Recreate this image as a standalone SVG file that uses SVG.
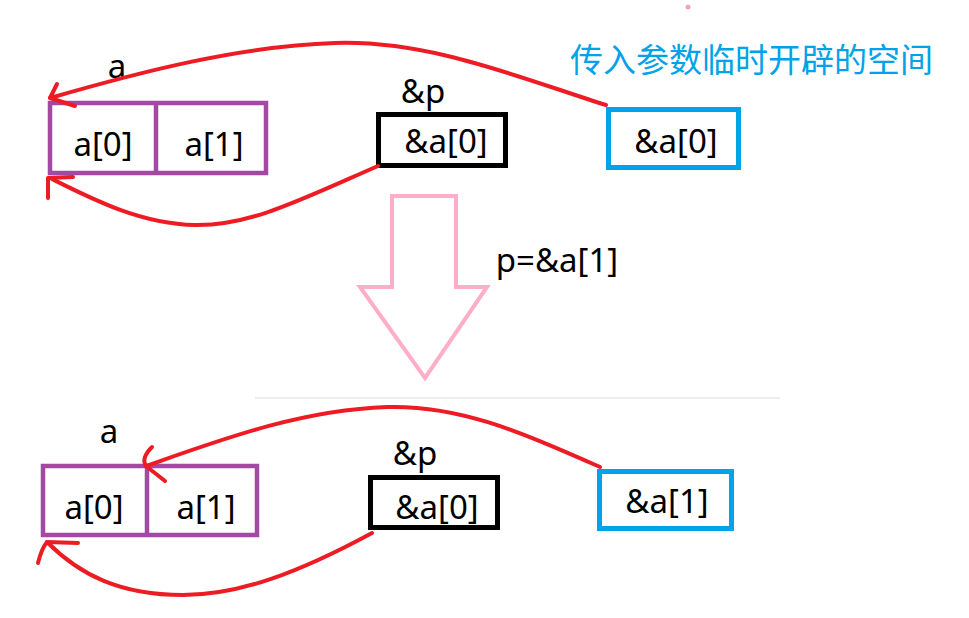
<svg xmlns="http://www.w3.org/2000/svg" width="969" height="618" viewBox="0 0 969 618">
<defs>
<style>
.t{font-family:"Noto Sans","Open Sans","Liberation Sans",sans-serif;font-size:33px;fill:#000;text-anchor:middle}
.purple{fill:none;stroke:#a349a4;stroke-width:4.5}
.black{fill:none;stroke:#000;stroke-width:5}
.blue{fill:none;stroke:#00a2e8;stroke-width:5}
.red{fill:none;stroke:#ed1c24;stroke-width:4;stroke-linecap:round;stroke-linejoin:round}
.cn{font-family:"Noto Sans CJK SC","Noto Sans",sans-serif;font-size:33px;fill:#00a2e8}
</style>
</defs>
<rect width="969" height="618" fill="#fff"/>
<line x1="255" y1="398" x2="780" y2="398" stroke="#ececec" stroke-width="2"/>
<circle cx="688" cy="7" r="2.5" fill="#f5a3bd"/>

<g id="top-array">
<rect class="purple" x="50" y="103" width="216" height="70"/>
<line class="purple" x1="156" y1="103" x2="156" y2="173"/>
<text class="t" x="117" y="78">a</text>
<text class="t" x="103" y="156">a[0]</text>
<text class="t" x="214" y="156">a[1]</text>
</g>
<g id="top-p">
<rect class="black" x="378.5" y="114.5" width="127" height="51"/>
<text class="t" x="423" y="103">&amp;p</text>
<text class="t" x="446" y="153">&amp;a[0]</text>
</g>
<g id="top-param">
<rect class="blue" x="608.5" y="109.5" width="130" height="58"/>
<text class="t" x="676" y="153">&amp;a[0]</text>
</g>
<text class="cn" x="570" y="72">传入参数临时开辟的空间</text>

<g id="change-arrow">
<polygon points="392,196 456,196 456,287 487,287 425,378 360,287 392,287" fill="none" stroke="#ffaec9" stroke-width="4"/>
<text class="t" x="557" y="272">p=&amp;a[1]</text>
</g>

<g id="bottom-array">
<rect class="purple" x="43" y="466" width="214" height="69"/>
<line class="purple" x1="147" y1="466" x2="147" y2="535"/>
<text class="t" x="109" y="443">a</text>
<text class="t" x="94" y="519">a[0]</text>
<text class="t" x="206" y="519">a[1]</text>
</g>
<g id="bottom-p">
<rect class="black" x="370.5" y="477.5" width="127" height="50"/>
<text class="t" x="415" y="465">&amp;p</text>
<text class="t" x="437" y="519">&amp;a[0]</text>
</g>
<g id="bottom-param">
<rect class="blue" x="599.5" y="471.5" width="132" height="57"/>
<text class="t" x="667" y="513">&amp;a[1]</text>
</g>

<g id="connectors">
<path class="red" d="M606,105 C520,78 430,40 335,43 C240,46 140,72 50,98"/>
<path class="red" d="M57,84 L50,98 L75,106"/>
<path class="red" d="M378,166 C300,200 250,226 195,225 C140,224 90,198 50,178"/>
<path class="red" d="M48,198 L48,178 L73,177"/>
<path class="red" d="M600,467 C520,432 460,405 387,407 C300,410 220,440 146,466"/>
<path class="red" d="M152,447 C146,453 142,460 146,466 L165,481"/>
<path class="red" d="M372,533 C300,572 240,595 183,595 C120,595 80,575 47,542"/>
<path class="red" d="M38,563 C40,555 42,548 47,542 L78,543"/>
</g>
</svg>
